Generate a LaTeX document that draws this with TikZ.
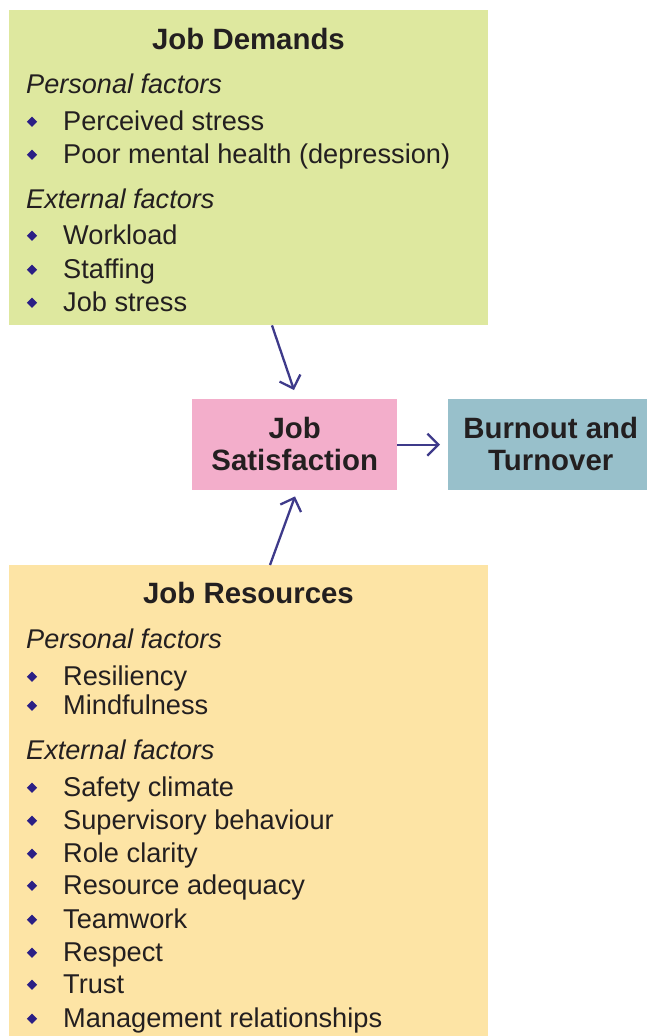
\documentclass[tikz,border=0pt]{standalone}
\usepackage{fontspec}
\setmainfont{Liberation Sans}
\usetikzlibrary{arrows.meta,calc}

\definecolor{demandbg}{HTML}{DEE89F}
\definecolor{resourcebg}{HTML}{FDE4A5}
\definecolor{satbg}{HTML}{F3AECB}
\definecolor{burnbg}{HTML}{98C0CB}
\definecolor{arrowc}{HTML}{3E3A8A}
\definecolor{bulletc}{HTML}{2B1F85}
\definecolor{inkc}{HTML}{231F20}

\tikzset{
  panel/.style={anchor=north west, inner sep=0, draw=none},
  headtext/.style={anchor=base, inner sep=0, text=inkc, font=\fontsize{29.5}{32}\selectfont\bfseries},
  subtext/.style={anchor=base west, inner sep=0, text=inkc, font=\fontsize{27.2}{30}\selectfont\itshape},
  itemtext/.style={anchor=base west, inner sep=0, text=inkc, font=\fontsize{27.3}{30}\selectfont},
  dot/.style={fill=bulletc, inner sep=0, minimum size=7.3bp, rotate=45},
  boxtext/.style={inner sep=0, align=center, text=inkc, font=\fontsize{29.5}{32}\selectfont\bfseries},
  link/.style={draw=arrowc, line width=2.3bp, -{Straight Barb[length=11bp,width=22bp]}},
}

\begin{document}
\begin{tikzpicture}[x=1bp, y=-1bp]
  \useasboundingbox (0,0) rectangle (647,1036);

  % coloured panels
  \node[panel, fill=demandbg, minimum width=479bp, minimum height=315bp] (demands) at (9,10) {};
  \node[panel, fill=resourcebg, minimum width=479bp, minimum height=471bp] (resources) at (9,565) {};
  \node[panel, fill=satbg, minimum width=205bp, minimum height=91bp] (sat) at (192,399) {};
  \node[panel, fill=burnbg, minimum width=199bp, minimum height=91bp] (burn) at (448,399) {};

  \node[boxtext] (satlabel) at ($(sat.center)+(0,-1)$) {Job\\Satisfaction};
  \node[boxtext] (burnlabel) at ($(burn.center)+(3,-1)$) {Burnout and\\Turnover};

  % job demands list
  \node[headtext] (dhead) at (248.5,49) {Job Demands};
  \node[subtext] (dpers) at (26,93) {Personal factors};
  \node[itemtext] (d1) at (63,130) {Perceived stress};
  \node[itemtext] (d2) at (63,163) {Poor mental health (depression)};
  \node[subtext] (dext) at (26,208) {External factors};
  \node[itemtext] (d3) at (63,244) {Workload};
  \node[itemtext] (d4) at (63,278) {Staffing};
  \node[itemtext] (d5) at (63,311) {Job stress};
  \foreach \y [count=\i] in {130,163,244,278,311}
    \node[dot] (db\i) at (32,\y-8.3) {};

  % job resources list
  \node[headtext] (rhead) at (248.5,603) {Job Resources};
  \node[subtext] (rpers) at (26,648) {Personal factors};
  \node[itemtext] (r1) at (63,685) {Resiliency};
  \node[itemtext] (r2) at (63,714) {Mindfulness};
  \node[subtext] (rext) at (26,759) {External factors};
  \node[itemtext] (r3) at (63,796) {Safety climate};
  \node[itemtext] (r4) at (63,829) {Supervisory behaviour};
  \node[itemtext] (r5) at (63,862) {Role clarity};
  \node[itemtext] (r6) at (63,894) {Resource adequacy};
  \node[itemtext] (r7) at (63,928) {Teamwork};
  \node[itemtext] (r8) at (63,961) {Respect};
  \node[itemtext] (r9) at (63,993) {Trust};
  \node[itemtext] (r10) at (63,1027) {Management relationships};
  \foreach \y [count=\i] in {685,714,796,829,862,894,928,961,993,1027}
    \node[dot] (rb\i) at (32,\y-8.3) {};

  % connectors
  \draw[link] ($(demands.south west)+(263,0)$) -- ($(sat.north west)+(102,-9)$);
  \draw[link] ($(resources.north west)+(261,0)$) -- ($(sat.south west)+(103,6)$);
  \draw[link] (sat.east) -- ($(burn.west)+(-8,0)$);
\end{tikzpicture}
\end{document}
